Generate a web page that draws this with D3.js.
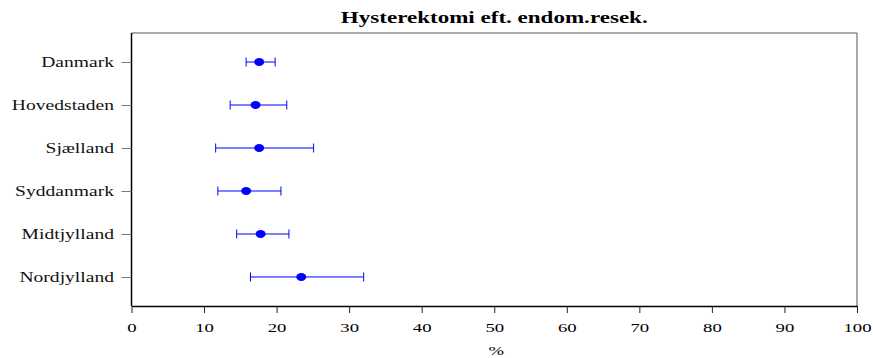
<!DOCTYPE html>
<html>
<head>
<meta charset="utf-8">
<script src="https://cdn.jsdelivr.net/npm/d3@7"></script>
<style>
  html, body { margin: 0; padding: 0; background: #fff; }
  svg { display: block; font-family: "Liberation Serif", "Times New Roman", serif; }
</style>
</head>
<body>
<svg id="chart" width="873" height="358"></svg>
<script>
// Regions and their rate (%) with 95% confidence limits
const regions = ["Danmark", "Hovedstaden", "Sjælland", "Syddanmark", "Midtjylland", "Nordjylland"];
const rate    = [17.6, 17.1, 17.6, 15.8, 17.8, 23.4];
const lower   = [15.8, 13.6, 11.6, 11.9, 14.5, 16.4];
const upper   = [19.8, 21.4, 25.1, 20.6, 21.7, 32.0];
const xTicks  = [0, 10, 20, 30, 40, 50, 60, 70, 80, 90, 100];

const titleText = "Hysterektomi eft. endom.resek.";
const xLabel = "%";

const W = 873, H = 358;
const margin = { top: 33, right: 16, bottom: 52, left: 131.5 };
const x0 = margin.left, x1 = W - margin.right;
const y0 = margin.top, y1 = H - margin.bottom;
const stretch = 1.44; // wide serif lettering

const svg = d3.select("#chart");

const x = d3.scaleLinear().domain([0, 100]).range([x0, x1]);
const y = d3.scalePoint().domain(regions).range([y0, y1]).padding(0.675);

// Plot frame: dark left/bottom, lighter top/right
svg.append("line").attr("x1", x0).attr("x2", x1).attr("y1", y0).attr("y2", y0)
  .attr("stroke", "#555").attr("stroke-width", 1);
svg.append("line").attr("x1", x1).attr("x2", x1).attr("y1", y0).attr("y2", y1)
  .attr("stroke", "#555").attr("stroke-width", 1);

// X axis
const xAxis = svg.append("g")
  .attr("transform", `translate(0,${y1})`)
  .call(d3.axisBottom(x).tickValues(xTicks).tickSize(7).tickSizeOuter(0).tickPadding(10));
xAxis.select(".domain").attr("stroke", "#000").attr("stroke-width", 1.5);
xAxis.selectAll(".tick line").attr("stroke", "#222");
xAxis.selectAll(".tick text")
  .attr("fill", "#000")
  .style("font-family", "Liberation Serif")
  .style("font-size", "13px")
  .attr("dy", null)
  .attr("y", 26)
  .attr("transform", `scale(${stretch},1)`);

// Y axis
const yAxis = svg.append("g")
  .attr("transform", `translate(${x0},0)`)
  .call(d3.axisLeft(y).tickSize(10).tickSizeOuter(0).tickPadding(0));
yAxis.select(".domain").attr("stroke", "#000").attr("stroke-width", 1.5)
  .attr("d", `M0,${y0}V${y1}`);
yAxis.selectAll(".tick line").attr("stroke", "#777");
yAxis.selectAll(".tick text")
  .attr("fill", "#111")
  .style("font-family", "Liberation Serif")
  .style("font-size", "13.6px")
  .attr("x", -17.5 / stretch)
  .attr("dy", "0.35em")
  .attr("transform", `scale(${stretch},1)`);

// Confidence intervals with end caps
const data = regions.map((r, i) => ({ region: r, rate: rate[i], lo: lower[i], hi: upper[i] }));
const capH = 4.5;
const marks = svg.append("g").attr("stroke", "#0000ff").attr("stroke-width", 1);
marks.selectAll("line.ci").data(data).join("line").attr("class", "ci")
  .attr("x1", d => x(d.lo)).attr("x2", d => x(d.hi))
  .attr("y1", d => y(d.region)).attr("y2", d => y(d.region));
marks.selectAll("line.capl").data(data).join("line").attr("class", "capl")
  .attr("x1", d => x(d.lo)).attr("x2", d => x(d.lo))
  .attr("y1", d => y(d.region) - capH).attr("y2", d => y(d.region) + capH);
marks.selectAll("line.caph").data(data).join("line").attr("class", "caph")
  .attr("x1", d => x(d.hi)).attr("x2", d => x(d.hi))
  .attr("y1", d => y(d.region) - capH).attr("y2", d => y(d.region) + capH);

// Point estimates
svg.append("g").selectAll("ellipse").data(data).join("ellipse")
  .attr("cx", d => x(d.rate)).attr("cy", d => y(d.region))
  .attr("rx", 5).attr("ry", 4)
  .attr("fill", "#0000ff");

// Title
svg.append("text")
  .attr("transform", `translate(${(x0 + x1) / 2},23) scale(${stretch},1)`)
  .attr("text-anchor", "middle")
  .style("font-size", "16px")
  .style("font-weight", "bold")
  .attr("fill", "#000")
  .text(titleText);

// X axis label
svg.append("text")
  .attr("transform", `translate(${(x0 + x1) / 2 + 2},355) scale(${stretch},1)`)
  .attr("text-anchor", "middle")
  .style("font-size", "13px")
  .attr("fill", "#000")
  .text(xLabel);
</script>
</body>
</html>
